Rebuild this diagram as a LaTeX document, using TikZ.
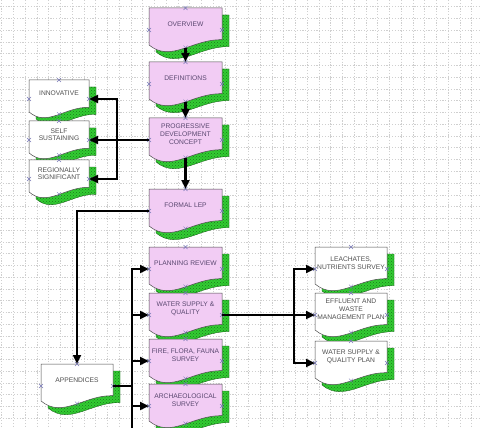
\documentclass[tikz,border=0pt]{standalone}
\usepackage{fontspec}
\setmainfont{Liberation Sans}
\usetikzlibrary{arrows.meta,patterns,calc}
\definecolor{pinkfill}{HTML}{F2CCF4}
\definecolor{shgreen}{HTML}{33CC33}
\definecolor{shdots}{HTML}{1A7A1A}
\definecolor{shline}{HTML}{145014}
\definecolor{txtpink}{HTML}{5A4870}
\definecolor{txtwhite}{HTML}{505050}
\definecolor{cpt}{HTML}{7A7AB8}
\definecolor{gridc}{HTML}{CFCFCF}
\tikzset{
  pinkbox/.style={fill=pinkfill, draw=black!70, line width=0.5pt},
  whitebox/.style={fill=white, draw=black!70, line width=0.5pt},
  pinktext/.style={text=txtpink},
  whitetext/.style={text=txtwhite},
  shadowshape/.style={fill=shgreen, draw=shline, line width=0.3pt},
  shadowdots/.style={pattern=crosshatch dots, pattern color=shdots},
  boxlabel/.style={inner sep=0pt, align=center, font=\fontsize{6.7}{7.9}\selectfont},
  anchorbox/.style={inner sep=0pt, outer sep=0pt, draw=none},
  cmark/.style={draw=cpt, line width=0.4pt},
  conn/.style={line width=2.6pt, -{Triangle[length=9pt,width=8pt]}},
  plainconn/.style={line width=2.6pt},
  gridline/.style={draw=gridc, line width=0.4pt, dash pattern=on 1.2pt off 1.6pt},
}
\newcommand\docpath[2]{(0,0) -- (#1,0) -- (#1,0.72*#2) .. controls (0.6*#1,0.7*#2) and (0.3*#1,1.25*#2) .. (0,0.84*#2) -- cycle}
\newcommand\cross[2]{\draw[cmark] (#1-2,#2-2) -- (#1+2,#2+2) (#1-2,#2+2) -- (#1+2,#2-2);}
% name, x, y, w, h, kind, text
\newcommand\docbox[7]{%
  \begin{scope}[shift={(#2+7,#3+7)}]
    \path[shadowshape] \docpath{#4}{#5};
    \path[shadowdots] \docpath{#4}{#5};
  \end{scope}
  \begin{scope}[shift={(#2,#3)}]
    \path[#6box] \docpath{#4}{#5};
  \end{scope}
  \node[anchorbox, minimum width=#4pt, minimum height=#5pt] (#1) at (#2+#4/2,#3+#5/2) {};
  \coordinate (#1-b) at (#2+#4/2,#3+0.9*#5);
  \node[boxlabel, #6text] (#1-t) at (#2+#4/2,#3+0.36*#5) {#7};
  \cross{#2+#4/2}{#3}
  \cross{#2}{#3+#5/2}
  \cross{#2+#4}{#3+#5/2}
  \cross{#2+#4/2}{#3+0.9*#5}
}
\begin{document}
\begin{tikzpicture}[x=1pt,y=-1pt]
\useasboundingbox (0,0) rectangle (480,428);
\fill[white] (0,0) rectangle (480,428);
\foreach \k in {0,...,40} {\draw[gridline] (1.6+11.75*\k,0) -- (1.6+11.75*\k,428);}
\foreach \k in {0,...,36} {\draw[gridline] (0,6.7+11.75*\k) -- (480,6.7+11.75*\k);}

% central column
\docbox{ov}{149}{8}{73}{44}{pink}{OVERVIEW}
\docbox{de}{149}{62}{73}{44}{pink}{DEFINITIONS}
\docbox{pr}{149}{118}{73}{44}{pink}{PROGRESSIVE\\DEVELOPMENT\\CONCEPT}
\docbox{fl}{149}{189}{73}{44}{pink}{FORMAL LEP}
\docbox{plr}{149}{247}{73}{44}{pink}{PLANNING REVIEW}
\docbox{ws}{149}{293}{73}{44}{pink}{WATER SUPPLY \&\\QUALITY}
\docbox{ff}{149}{339}{73}{44}{pink}{FIRE, FLORA, FAUNA\\SURVEY}
\docbox{ar}{149}{384}{73}{44}{pink}{ARCHAEOLOGICAL\\SURVEY}

% left column
\docbox{in}{29}{80}{60}{38}{white}{INNOVATIVE}
\docbox{se}{29}{121}{60}{38}{white}{SELF\\SUSTAINING}
\docbox{rs}{29}{160}{60}{38}{white}{REGIONALLY\\SIGNIFICANT}
\docbox{ap}{41}{364}{72}{44}{white}{APPENDICES}

% right column
\docbox{le}{315}{247}{72}{44}{white}{LEACHATES,\\NUTRIENTS SURVEY}
\docbox{ef}{315}{293}{72}{44}{white}{EFFLUENT AND\\WASTE\\MANAGEMENT PLAN}
\docbox{wq}{315}{341}{72}{44}{white}{WATER SUPPLY \&\\QUALITY PLAN}

% connectors
\draw[conn] (ov-b) -- (de.north);
\draw[conn] (de-b) -- (pr.north);
\draw[conn] (pr-b) -- (fl.north);

\coordinate (j1) at (117,140);
\draw[conn] (pr.west) -- (se.east);
\draw[conn] (j1) |- (in.east);
\draw[conn] (j1) |- (rs.east);

\draw[conn] (fl.west) -| (ap.north);

\coordinate (j2) at (132,386);
\coordinate (jb) at (132,432);
\draw[plainconn] (ap.east) -- (j2);
\draw[conn] (j2) |- (plr.west);
\draw[conn] (j2) |- (ws.west);
\draw[conn] (j2) |- (ff.west);
\draw[conn] (j2) |- (ar.west);
\draw[plainconn] (j2) -- (jb);

\coordinate (j3) at (294,315);
\draw[conn] (ws.east) -- (ef.west);
\draw[conn] (j3) |- (le.west);
\draw[conn] (j3) |- (wq.west);
\end{tikzpicture}
\end{document}
